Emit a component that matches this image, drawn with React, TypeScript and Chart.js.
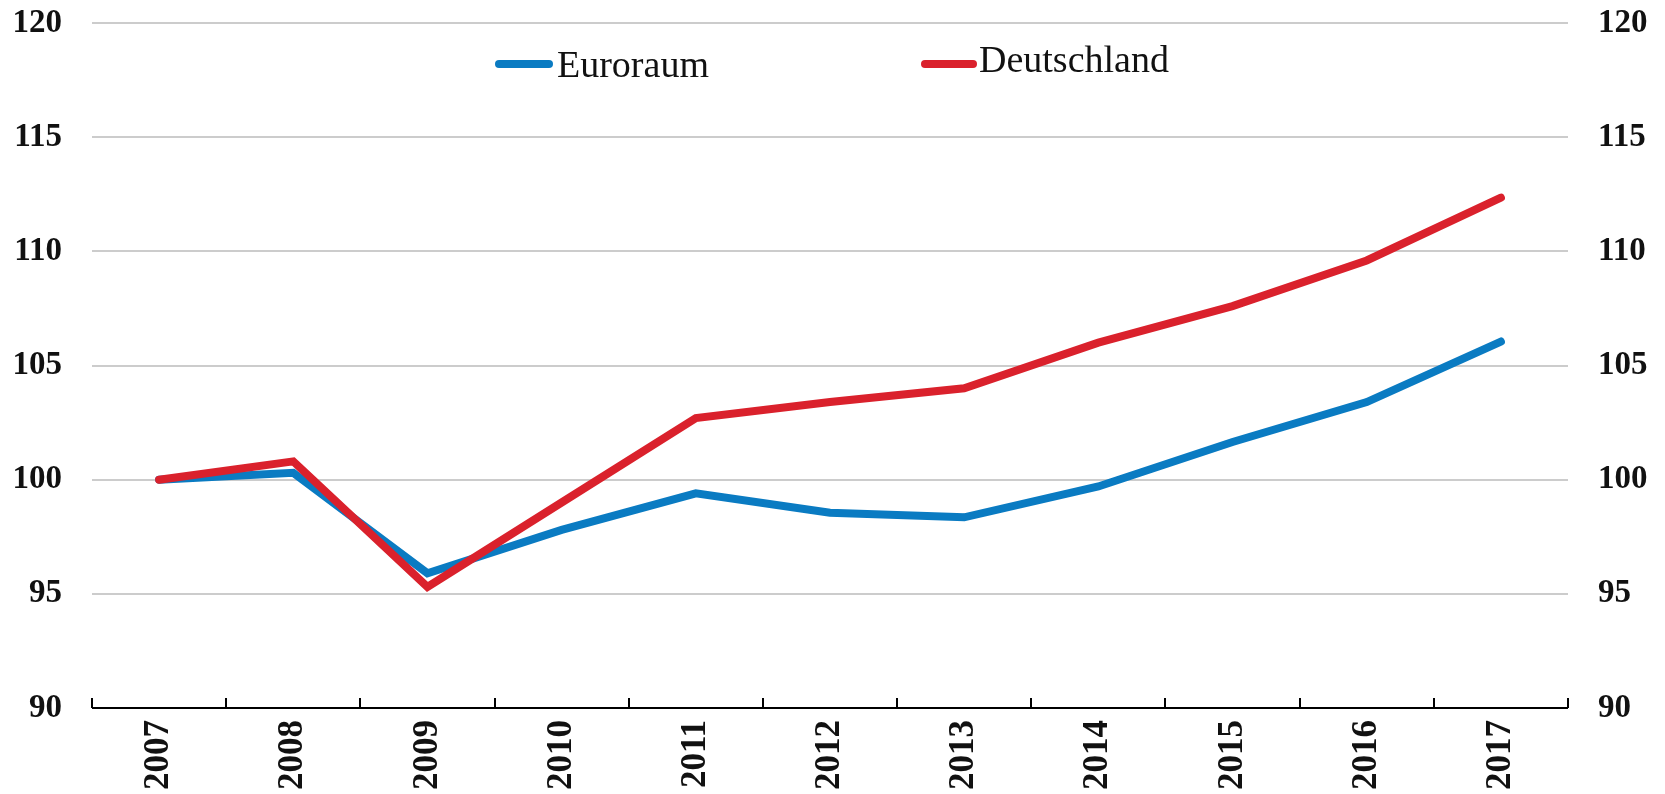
import React, { useEffect, useRef } from "react";
import { Chart, registerables } from "chart.js";

Chart.register(...registerables);

const categories = ["2007", "2008", "2009", "2010", "2011", "2012", "2013", "2014", "2015", "2016", "2017"];
const euroraum = [100, 100.3, 95.9, 97.8, 99.4, 98.55, 98.35, 99.7, 101.65, 103.4, 106.05];
const deutschland = [100, 100.8, 95.3, 99.0, 102.7, 103.4, 104.0, 106.0, 107.6, 109.6, 112.35];
const yTicks = [90, 95, 100, 105, 110, 115, 120];

const BLUE = "#0a7bc2";
const RED = "#da212c";
const SERIF = "'Liberation Serif', 'Times New Roman', serif";

const axisPlugin = {
  id: "axisPlugin",
  afterDraw(chart: any) {
    const { ctx, chartArea } = chart;
    const x = chart.scales.x;
    const n = categories.length;
    ctx.save();
    ctx.strokeStyle = "#000";
    ctx.lineWidth = 2;
    ctx.beginPath();
    ctx.moveTo(chartArea.left, chartArea.bottom);
    ctx.lineTo(chartArea.right, chartArea.bottom);
    const half = (x.getPixelForValue(1) - x.getPixelForValue(0)) / 2;
    for (let i = 0; i <= n; i++) {
      const px = i < n ? x.getPixelForValue(i) - half : x.getPixelForValue(n - 1) + half;
      ctx.moveTo(Math.round(px), chartArea.bottom);
      ctx.lineTo(Math.round(px), chartArea.bottom - 10);
    }
    ctx.stroke();

    // legend
    const items = [
      { label: chart.data.datasets[0].label, color: chart.data.datasets[0].borderColor, x1: 499, x2: 549, ly: 64, tx: 557, ty: 77 },
      { label: chart.data.datasets[1].label, color: chart.data.datasets[1].borderColor, x1: 925, x2: 973, ly: 64, tx: 979, ty: 72 },
    ];
    for (const it of items) {
      ctx.strokeStyle = it.color;
      ctx.lineWidth = 8;
      ctx.lineCap = "round";
      ctx.beginPath();
      ctx.moveTo(it.x1, it.ly);
      ctx.lineTo(it.x2, it.ly);
      ctx.stroke();
      ctx.fillStyle = "#111";
      ctx.font = `38px ${SERIF}`;
      ctx.textBaseline = "alphabetic";
      ctx.textAlign = "left";
      ctx.fillText(it.label, it.tx, it.ty);
    }
    ctx.restore();
  },
};

export default function App() {
  const ref = useRef<HTMLCanvasElement | null>(null);
  useEffect(() => {
    if (!ref.current) return;
    const chart = new Chart(ref.current, {
      type: "line",
      data: {
        labels: categories,
        datasets: [
          {
            label: "Euroraum",
            data: euroraum,
            borderColor: BLUE,
            backgroundColor: BLUE,
            borderWidth: 8,
            pointRadius: 0,
            borderCapStyle: "round",
            tension: 0,
            order: 1,
          },
          {
            label: "Deutschland",
            data: deutschland,
            borderColor: RED,
            backgroundColor: RED,
            borderWidth: 8,
            pointRadius: 0,
            borderCapStyle: "round",
            tension: 0,
            order: 0,
          },
        ],
      },
      options: {
        responsive: false,
        animation: false,
        layout: { padding: 0 },
        plugins: { legend: { display: false }, tooltip: { enabled: false } },
        scales: {
          x: {
            offset: true,
            grid: { display: false, drawTicks: false },
            border: { display: false },
            ticks: {
              autoSkip: false,
              minRotation: 90,
              maxRotation: 90,
              padding: 12,
              color: "#111",
              font: { family: SERIF, size: 35, weight: "bold" },
            },
            afterFit: (s: any) => { s.height = 86; s.paddingLeft = 0; s.paddingRight = 0; },
          },
          y: {
            position: "left",
            min: yTicks[0],
            max: yTicks[yTicks.length - 1],
            afterBuildTicks: (s: any) => { s.ticks = yTicks.map((v) => ({ value: v })); },
            grid: { color: "#cccccc", lineWidth: 2, drawTicks: false },
            border: { display: false },
            ticks: { padding: 30, color: "#111", font: { family: SERIF, size: 33, weight: "bold" } },
            afterFit: (s: any) => { s.width = 92; s.paddingTop = 23; s.paddingBottom = 0; },
          },
          y2: {
            position: "right",
            min: yTicks[0],
            max: yTicks[yTicks.length - 1],
            afterBuildTicks: (s: any) => { s.ticks = yTicks.map((v) => ({ value: v })); },
            grid: { display: false, drawTicks: false },
            border: { display: false },
            ticks: { padding: 30, color: "#111", font: { family: SERIF, size: 33, weight: "bold" } },
            afterFit: (s: any) => { s.width = 97; s.paddingTop = 23; s.paddingBottom = 0; },
          },
        },
      },
      plugins: [axisPlugin],
    });
    return () => chart.destroy();
  }, []);
  return (
    <div style={{ position: "fixed", left: 0, top: 0, width: 1665, height: 794, background: "#fff" }}>
      <canvas ref={ref} width={1665} height={794} />
    </div>
  );
}
